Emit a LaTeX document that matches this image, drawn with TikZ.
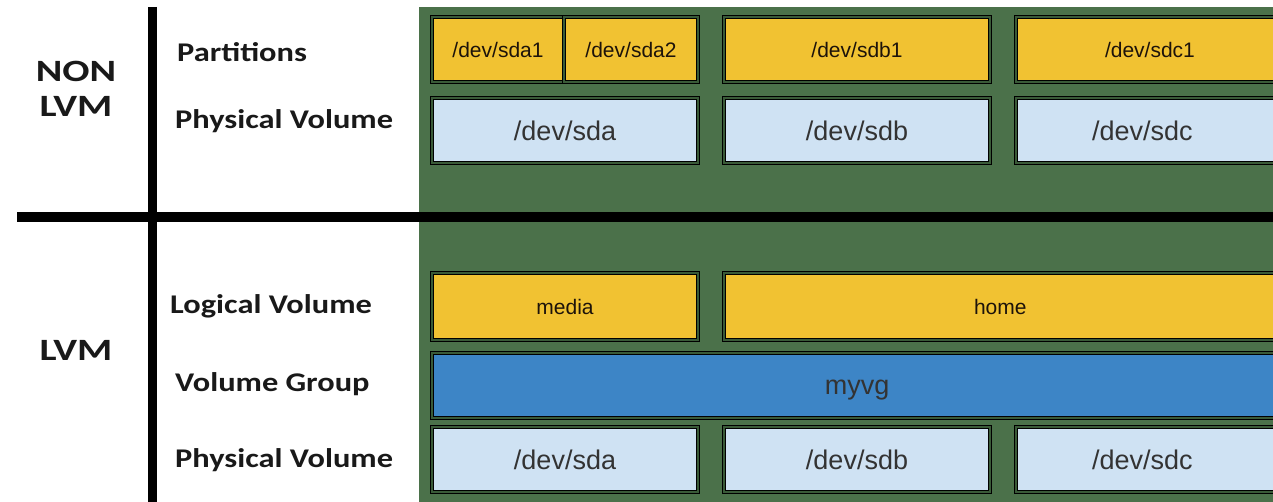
\documentclass[tikz,border=0pt]{standalone}
\usepackage{fontspec}
\setmainfont{Liberation Sans}
\newfontfamily\lblfont{Carlito}
\newcommand\wlbl[1]{\scalebox{1.2}[1]{#1}}
\newcommand\wbig[1]{\scalebox{1.3}[1]{#1}}
\definecolor{bggreen}{HTML}{4B714A}
\definecolor{gapgreen}{HTML}{3A5A38}
\definecolor{ylw}{HTML}{F1C232}
\definecolor{lblue}{HTML}{CFE2F3}
\definecolor{dblue}{HTML}{3D85C6}
\tikzset{
  blk/.style={draw=black, line width=1pt, double=gapgreen, double distance=1.3pt, inner sep=0pt, font=\fontsize{21}{24}\selectfont, text=black!80},
  ybox/.style={blk, fill=ylw, text=black!85!brown},
  pvbox/.style={blk, fill=lblue, font=\fontsize{27}{30}\selectfont},
  vgbox/.style={blk, fill=dblue, font=\fontsize{27}{30}\selectfont},
  lbl/.style={anchor=west, font=\lblfont\bfseries\fontsize{27}{30}\selectfont, inner sep=0pt, text=black!90},
  big/.style={font=\lblfont\bfseries\fontsize{31}{34}\selectfont, inner sep=0pt, text=black!90},
}
\begin{document}
\begin{tikzpicture}[x=1pt,y=-1pt]
\useasboundingbox (0,0) rectangle (1273,502);
\begin{scope}
\clip (0,0) rectangle (1273,502);
\fill[bggreen] (419,7) rectangle (1290,510);
% NON LVM row
\node[ybox, minimum width=132, minimum height=65] (sda1) at (498,49.5) {/dev/sda1};
\node[ybox, minimum width=134, minimum height=65] (sda2) at (631,49.5) {/dev/sda2};
\node[ybox, minimum width=266, minimum height=65] (sdb1) at (857,49.5) {/dev/sdb1};
\node[ybox, minimum width=269, minimum height=65, text width=257, align=left] (sdc1) at (1150.5,49.5) {\hspace*{83pt}/dev/sdc1};
\node[pvbox, minimum width=266, minimum height=65] (pva) at (565,130.5) {/dev/sda};
\node[pvbox, minimum width=266, minimum height=65] (pvb) at (857,130.5) {/dev/sdb};
\node[pvbox, minimum width=269, minimum height=65, text width=257, align=left] (pvc) at (1150.5,130.5) {\hspace*{70pt}/dev/sdc};
% LVM rows
\node[ybox, minimum width=266, minimum height=67] (media) at (565,306.5) {media};
\node[ybox, minimum width=561, minimum height=67, text width=549, align=left] (home) at (1004.5,306.5) {\hspace*{244pt}home};
\node[vgbox, minimum width=853, minimum height=65] (myvg) at (858.5,385.5) {};
\node[font=\fontsize{27}{30}\selectfont, text=black!80, inner sep=0pt] (myvgt) at (857,390) {myvg};
\node[pvbox, minimum width=266, minimum height=65] (lpva) at (565,459.5) {/dev/sda};
\node[pvbox, minimum width=266, minimum height=65] (lpvb) at (857,459.5) {/dev/sdb};
\node[pvbox, minimum width=269, minimum height=65, text width=257, align=left] (lpvc) at (1150.5,459.5) {\hspace*{70pt}/dev/sdc};
% separators
\coordinate (vtop) at (152.5,7);
\coordinate (vbot) at (152.5,510);
\coordinate (hl) at (17,217);
\coordinate (hr) at (1290,217);
\draw[line width=9.5pt] (vtop) -- (vbot);
\draw[line width=10pt] (hl) -- (hr);
\end{scope}
% labels
\node[big] (non) at (76,71) {\wbig{NON}};
\node[big] (lvm1) at (76,106) {\wbig{LVM}};
\node[big] (lvm2) at (76,350) {\wbig{LVM}};
\node[lbl] (lpart) at (177,52) {\wlbl{Partitions}};
\node[lbl] (lpv1) at (175,121) {\wlbl{Physical Volume}};
\node[lbl] (llv) at (170,306) {\wlbl{Logical Volume}};
\node[lbl] (lvg) at (175,384) {\wlbl{Volume Group}};
\node[lbl] (lpv2) at (175,460) {\wlbl{Physical Volume}};
\end{tikzpicture}
\end{document}
